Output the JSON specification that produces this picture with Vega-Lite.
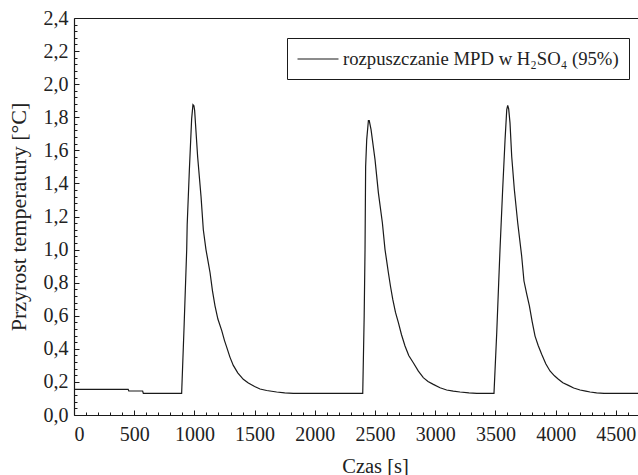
{
  "$schema": "https://vega.github.io/schema/vega-lite/v6.json",
  "width": 564,
  "height": 397,
  "autosize": {"type": "none"},
  "padding": {"left": 74, "top": 18, "right": 0, "bottom": 60},
  "background": "white",
  "config": {
    "view": {"stroke": null},
    "font": "Liberation Serif",
    "axis": {"grid": false, "domainColor": "#1a1a1a", "tickColor": "#1a1a1a", "domainWidth": 1.2, "tickWidth": 1, "labelColor": "#222", "titleColor": "#222", "labelFont": "Liberation Serif", "titleFont": "Liberation Serif", "titleFontWeight": "normal"}
  },
  "data": {
    "values": [
      {"t": 0, "dT": 0.155}, {"t": 450, "dT": 0.155}, {"t": 455, "dT": 0.145}, {"t": 570, "dT": 0.145}, {"t": 576, "dT": 0.131},
      {"t": 894, "dT": 0.131}, {"t": 915, "dT": 0.55}, {"t": 936, "dT": 1.0}, {"t": 940, "dT": 1.15}, {"t": 958, "dT": 1.48},
      {"t": 977, "dT": 1.79}, {"t": 988, "dT": 1.876}, {"t": 996, "dT": 1.87}, {"t": 1002, "dT": 1.84}, {"t": 1027, "dT": 1.56},
      {"t": 1055, "dT": 1.32}, {"t": 1074, "dT": 1.12}, {"t": 1096, "dT": 1.0}, {"t": 1113, "dT": 0.93}, {"t": 1130, "dT": 0.86},
      {"t": 1150, "dT": 0.75}, {"t": 1171, "dT": 0.66}, {"t": 1195, "dT": 0.58}, {"t": 1227, "dT": 0.51}, {"t": 1250, "dT": 0.45},
      {"t": 1268, "dT": 0.41}, {"t": 1295, "dT": 0.35}, {"t": 1323, "dT": 0.3}, {"t": 1360, "dT": 0.255}, {"t": 1406, "dT": 0.216},
      {"t": 1448, "dT": 0.194}, {"t": 1500, "dT": 0.172}, {"t": 1545, "dT": 0.157}, {"t": 1600, "dT": 0.148}, {"t": 1683, "dT": 0.139},
      {"t": 1750, "dT": 0.134}, {"t": 1822, "dT": 0.131},
      {"t": 2398, "dT": 0.131}, {"t": 2410, "dT": 0.6}, {"t": 2417, "dT": 1.0}, {"t": 2422, "dT": 1.5}, {"t": 2431, "dT": 1.665},
      {"t": 2445, "dT": 1.78}, {"t": 2452, "dT": 1.78}, {"t": 2467, "dT": 1.725}, {"t": 2500, "dT": 1.544}, {"t": 2528, "dT": 1.343},
      {"t": 2561, "dT": 1.162}, {"t": 2583, "dT": 1.0}, {"t": 2597, "dT": 0.93}, {"t": 2611, "dT": 0.86}, {"t": 2628, "dT": 0.78},
      {"t": 2647, "dT": 0.7}, {"t": 2670, "dT": 0.62}, {"t": 2694, "dT": 0.558}, {"t": 2720, "dT": 0.485}, {"t": 2749, "dT": 0.417},
      {"t": 2780, "dT": 0.36}, {"t": 2818, "dT": 0.316}, {"t": 2860, "dT": 0.265}, {"t": 2901, "dT": 0.226}, {"t": 2940, "dT": 0.203},
      {"t": 2984, "dT": 0.185}, {"t": 3040, "dT": 0.165}, {"t": 3095, "dT": 0.151}, {"t": 3150, "dT": 0.144}, {"t": 3206, "dT": 0.139},
      {"t": 3280, "dT": 0.134}, {"t": 3345, "dT": 0.131},
      {"t": 3488, "dT": 0.131}, {"t": 3511, "dT": 0.5}, {"t": 3527, "dT": 0.8}, {"t": 3538, "dT": 1.0}, {"t": 3560, "dT": 1.363},
      {"t": 3580, "dT": 1.665}, {"t": 3594, "dT": 1.846}, {"t": 3602, "dT": 1.872}, {"t": 3610, "dT": 1.85}, {"t": 3621, "dT": 1.766},
      {"t": 3635, "dT": 1.564}, {"t": 3657, "dT": 1.363}, {"t": 3685, "dT": 1.162}, {"t": 3718, "dT": 0.96}, {"t": 3737, "dT": 0.81},
      {"t": 3760, "dT": 0.73}, {"t": 3782, "dT": 0.66}, {"t": 3805, "dT": 0.565}, {"t": 3829, "dT": 0.477}, {"t": 3855, "dT": 0.42},
      {"t": 3884, "dT": 0.367}, {"t": 3918, "dT": 0.31}, {"t": 3953, "dT": 0.266}, {"t": 3990, "dT": 0.237}, {"t": 4023, "dT": 0.216},
      {"t": 4060, "dT": 0.195}, {"t": 4106, "dT": 0.179}, {"t": 4150, "dT": 0.163}, {"t": 4203, "dT": 0.151}, {"t": 4250, "dT": 0.144},
      {"t": 4286, "dT": 0.139}, {"t": 4340, "dT": 0.134}, {"t": 4402, "dT": 0.131}, {"t": 4684, "dT": 0.131}
    ]
  },
  "layer": [
    {
      "mark": {"type": "line", "strokeWidth": 1.2, "clip": true},
      "encoding": {
        "x": {"field": "t", "type": "quantitative", "scale": {"domain": [0, 4684], "nice": false, "zero": false},
          "axis": {"orient": "bottom", "values": [0, 500, 1000, 1500, 2000, 2500, 3000, 3500, 4000, 4500], "format": "d", "tickSize": -5, "labelPadding": 14, "labelFontSize": 20, "title": "Czas [s]", "titleFontSize": 20.5, "titlePadding": 12, "titleX": 301}},
        "y": {"field": "dT", "type": "quantitative", "scale": {"domain": [0, 2.4], "nice": false},
          "axis": {"orient": "left", "values": [0, 0.2, 0.4, 0.6, 0.8, 1.0, 1.2, 1.4, 1.6, 1.8, 2.0, 2.2, 2.4], "labelExpr": "replace(format(datum.value, '.1f'), '.', ',')", "tickSize": -5, "labelPadding": 11, "labelFontSize": 20, "title": "Przyrost temperatury [°C]", "titleFontSize": 22, "titlePadding": 13}},
        "color": {"datum": "rozpuszczanie MPD w H₂SO₄ (95%)", "type": "nominal", "scale": {"range": ["#1a1a1a"]},
          "legend": {"orient": "none", "legendX": 213, "legendY": 20, "title": null, "symbolType": "M-2,0H2", "symbolSize": 420, "symbolOffset": 10, "symbolStrokeWidth": 1.2, "symbolStrokeColor": "#1a1a1a", "symbolFillColor": "transparent", "strokeColor": "#1a1a1a", "fillColor": "white", "padding": 10, "labelFontSize": 18.7, "labelFont": "Liberation Serif", "labelColor": "#222", "labelOffset": 14, "labelLimit": 500}}
      }
    },
    {
      "mark": {"type": "line", "strokeOpacity": 0},
      "encoding": {
        "x": {"field": "t", "type": "quantitative",
          "axis": {"orient": "bottom", "values": [100, 200, 300, 400, 600, 700, 800, 900, 1100, 1200, 1300, 1400, 1600, 1700, 1800, 1900, 2100, 2200, 2300, 2400, 2600, 2700, 2800, 2900, 3100, 3200, 3300, 3400, 3600, 3700, 3800, 3900, 4100, 4200, 4300, 4400, 4600], "labels": false, "tickSize": -3, "domain": false, "title": null}},
        "y": {"field": "dT", "type": "quantitative",
          "axis": {"orient": "left", "values": [0.04, 0.08, 0.12, 0.16, 0.24, 0.28, 0.32, 0.36, 0.44, 0.48, 0.52, 0.56, 0.64, 0.68, 0.72, 0.76, 0.84, 0.88, 0.92, 0.96, 1.04, 1.08, 1.12, 1.16, 1.24, 1.28, 1.32, 1.36, 1.44, 1.48, 1.52, 1.56, 1.64, 1.68, 1.72, 1.76, 1.84, 1.88, 1.92, 1.96, 2.04, 2.08, 2.12, 2.16, 2.24, 2.28, 2.32, 2.36], "labels": false, "tickSize": -3, "domain": false, "title": null}}
      }
    },
    {
      "mark": {"type": "line", "strokeOpacity": 0},
      "encoding": {
        "x": {"field": "t", "type": "quantitative",
          "axis": {"orient": "top", "ticks": false, "labels": false, "domain": true, "title": null}},
        "y": {"field": "dT", "type": "quantitative", "axis": null}
      }
    }
  ],
  "resolve": {"axis": {"x": "independent", "y": "independent"}}
}
